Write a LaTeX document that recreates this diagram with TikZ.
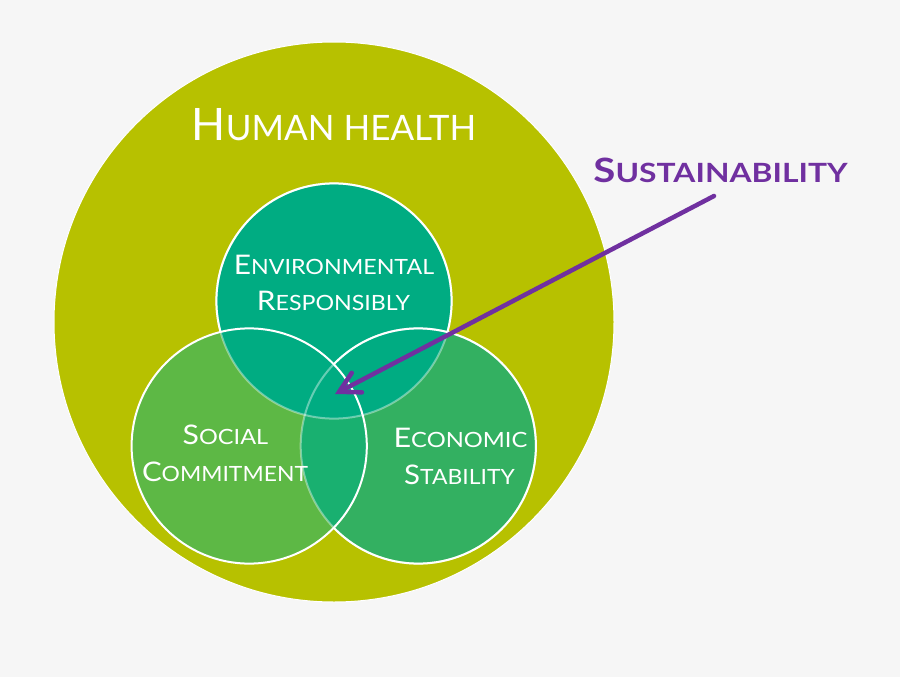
\documentclass[tikz,border=0pt]{standalone}
\usepackage{fontspec}
\setmainfont{Lato}
\usetikzlibrary{arrows.meta}
\definecolor{bgc}{RGB}{246,246,246}
\definecolor{olivec}{RGB}{183,193,0}
\definecolor{tealc}{RGB}{0,172,130}
\definecolor{leftc}{RGB}{93,184,69}
\definecolor{rightc}{RGB}{51,176,97}
\definecolor{lrc}{RGB}{25,176,112}
\definecolor{purplec}{RGB}{112,48,160}
\newcommand\fsz[2]{{\fontsize{#1}{#1}\selectfont #2}}
\newcommand\widen[2]{\scalebox{#1}[1]{#2}}
\tikzset{
  lbl/.style={text=white, inner sep=0pt, anchor=base},
  solidring/.style={draw=white, line width=2pt},
  faintring/.style={draw=white, draw opacity=0.4, line width=2pt},
}
\begin{document}
\begin{tikzpicture}[x=1pt,y=-1pt]
\fill[bgc] (0,0) rectangle (900,677);
\useasboundingbox (0,0) rectangle (900,677);
\coordinate (H) at (334,322);
\coordinate (T) at (334,301);
\coordinate (L) at (249.2,446);
\coordinate (R) at (418.3,446);
\def\rr{117.6}
% big circle
\fill[olivec] (H) circle (280);
\draw[white, line width=1pt] (H) circle (280);
% fills
\fill[leftc] (L) circle (\rr);
\fill[rightc] (R) circle (\rr);
\begin{scope}
  \clip (L) circle (\rr);
  \fill[lrc] (R) circle (\rr);
\end{scope}
\fill[tealc] (T) circle (\rr);
% top ring: faint everywhere, solid outside L and R
\draw[faintring] (T) circle (\rr);
\begin{scope}[even odd rule]
  \clip (-50,-50) rectangle (950,727) (L) circle (\rr);
  \begin{scope}[even odd rule]
    \clip (-50,-50) rectangle (950,727) (R) circle (\rr);
    \draw[solidring] (T) circle (\rr);
  \end{scope}
\end{scope}
% right ring: faint inside L, solid elsewhere
\draw[faintring] (R) circle (\rr);
\begin{scope}[even odd rule]
  \clip (-50,-50) rectangle (950,727) (L) circle (\rr);
  \draw[solidring] (R) circle (\rr);
\end{scope}
% left ring solid
\draw[solidring] (L) circle (\rr);
% labels
\node[lbl] (health) at (334,140) {\fsz{44.7}{H}\fsz{35}{UMAN HEALTH}};
\node[lbl] (env1) at (334,274) {\widen{1.105}{\fsz{27}{E}\fsz{21}{NVIRONMENTAL}}};
\node[lbl] (env2) at (333.5,310) {\widen{1.105}{\fsz{27}{R}\fsz{21}{ESPONSIBLY}}};
\node[lbl] (soc1) at (225.5,444) {\widen{1.12}{\fsz{27}{S}\fsz{21}{OCIAL}}};
\node[lbl] (soc2) at (225,481) {\widen{1.09}{\fsz{27}{C}\fsz{21}{OMMITMENT}}};
\node[lbl] (eco1) at (460.5,447) {\widen{1.13}{\fsz{27}{E}\fsz{21}{CONOMIC}}};
\node[lbl] (eco2) at (459.5,484) {\widen{1.09}{\fsz{27}{S}\fsz{21}{TABILITY}}};
\node[lbl, text=purplec, font=\bfseries] (sust) at (720.5,182) {\widen{1.2}{\fsz{33.5}{S}\fsz{26.5}{USTAINABILITY}}};
% arrow
\coordinate (astart) at (714,196);
\coordinate (atip) at (335,394);
\draw[purplec, line width=4.5pt, line cap=round, -{Straight Barb[length=20pt,width=22pt,line cap=round]}] (astart) -- (atip);
\end{tikzpicture}
\end{document}
